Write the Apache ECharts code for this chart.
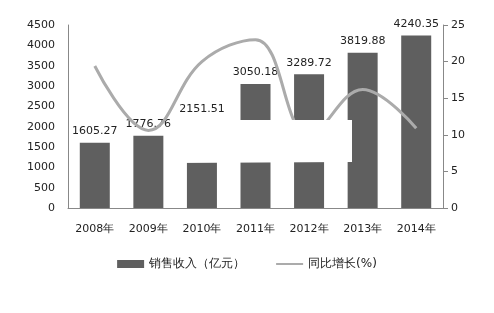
<!DOCTYPE html>
<html><head><meta charset="utf-8">
<script src="https://cdn.jsdelivr.net/npm/echarts@6/dist/echarts.min.js"></script>
<style>html,body{margin:0;padding:0;background:#fff}#c{width:494px;height:313px}</style>
</head><body><div id="c"></div>
<script>
const categories = ['2008年','2009年','2010年','2011年','2012年','2013年','2014年'];
const revenue = [1605.27, 1776.76, 2151.51, 3050.18, 3289.72, 3819.88, 4240.35];
const growth = [19.4, 10.6, 20.0, 23.0, 10.0, 16.2, 10.9];
const leftTicks = {min: 0, max: 4500, interval: 500};
const rightTicks = {min: 0, max: 25, interval: 5};
const font = 'DejaVu Sans';
const chart = echarts.init(document.getElementById('c'), null, {renderer: 'canvas'});
chart.setOption({
  animation: false,
  backgroundColor: '#fff',
  textStyle: {fontFamily: font},
  grid: {left: 68, right: 51, top: 25, bottom: 105},
  legend: {
    bottom: 38, left: 'center', itemGap: 30, itemWidth: 27, itemHeight: 8,
    textStyle: {fontFamily: font, fontSize: 12, color: '#222'},
    data: [
      {name: '销售收入（亿元）', icon: 'rect'},
      {name: '同比增长(%)', itemStyle: {opacity: 0}}
    ]
  },
  xAxis: {
    type: 'category', data: categories,
    axisLine: {lineStyle: {color: '#888', width: 1}},
    axisTick: {show: false},
    axisLabel: {color: '#222', fontSize: 11, margin: 16, fontFamily: font}
  },
  yAxis: [
    {type: 'value', min: leftTicks.min, max: leftTicks.max, interval: leftTicks.interval,
     axisLine: {show: true, lineStyle: {color: '#888'}}, axisTick: {show: false},
     splitLine: {show: false},
     axisLabel: {color: '#222', fontSize: 11, margin: 13, fontFamily: font, formatter: v => String(v)}},
    {type: 'value', min: rightTicks.min, max: rightTicks.max, interval: rightTicks.interval,
     position: 'right',
     axisLine: {show: true, lineStyle: {color: '#888'}},
     axisTick: {show: true, length: 5, lineStyle: {color: '#888'}},
     splitLine: {show: false},
     axisLabel: {color: '#222', fontSize: 11, margin: 8, fontFamily: font}}
  ],
  series: [
    {name: '销售收入（亿元）', type: 'bar', data: revenue, barWidth: '56%',
     itemStyle: {color: '#5f5f5f'},
     label: {show: true, position: 'top', distance: 6, color: '#222', fontSize: 11, fontFamily: font}},
    {name: '同比增长(%)', type: 'line', yAxisIndex: 1, data: growth, smooth: 0.4,
     symbol: 'none', lineStyle: {color: '#ababab', width: 3}, itemStyle: {color: '#ababab'}}
  ],
  graphic: [
    {type: 'polygon', shape: {points: [[173,129],[186,120],[352,120],[352,162],[173,163]]}, style: {fill: '#fff'}, z: 100}
  ]
});
</script></body></html>
